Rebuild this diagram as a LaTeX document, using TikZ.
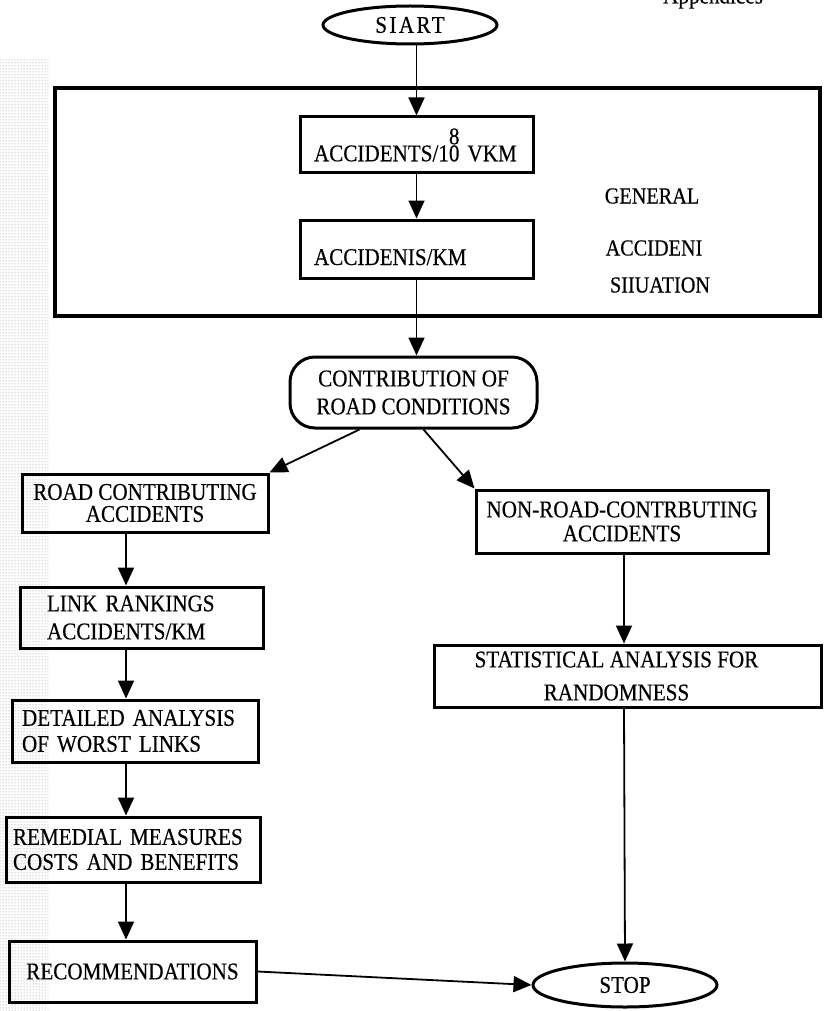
\documentclass[tikz,border=0pt]{standalone}
\usepackage{fontspec}
\setmainfont{Liberation Serif}[FakeStretch=0.88, FakeBold=0.4]
\usetikzlibrary{arrows.meta,shapes.geometric,patterns}
\newcommand\bfnt[1]{\fontsize{24}{#1}\selectfont}
\newcommand\sidefnt{\fontsize{23}{26}\selectfont}
\tikzset{
  box/.style={draw, line width=3pt, inner sep=0pt, font=\bfnt{25}},
  oval/.style={draw, ellipse, line width=3pt, inner sep=0pt, font=\bfnt{25}},
  arr/.style={line width=1.8pt, -{Triangle[length=18pt,width=16pt]}},
  side/.style={inner sep=0pt, font=\sidefnt},
}
\begin{document}
\begin{tikzpicture}[x=1pt,y=-1pt]
\useasboundingbox (0,0) rectangle (824,1011);
% scanned left margin speckle
\fill[pattern=dots, pattern color=gray] (0,60) rectangle (48,1011);
% header fragment
\node[anchor=base west, inner sep=0pt, font=\bfnt{25}] (hdr) at (663,3.5) {Appendices};
% frame
\node[draw, line width=3.5pt, minimum width=765pt, minimum height=228pt, inner sep=0pt] (frame) at (437.5,202) {};
% nodes
\node[oval, minimum width=174pt, minimum height=38pt] (start) at (410,25) {\addfontfeatures{LetterSpace=10}SIART};
\node[box, minimum width=233pt, minimum height=56pt, text width=205pt, align=left] (acc1) at (416.5,145) {ACCIDENTS/10\llap{\raisebox{17pt}{8}}~VKM};
\node[box, minimum width=233pt, minimum height=58pt, text width=205pt, align=left, text height=37pt, text depth=5pt] (acc2) at (416.5,249) {ACCIDENIS/KM};
\node[side] (lblG) at (652,196) {GENERAL};
\node[side] (lblA) at (654,248) {ACCIDENI};
\node[side] (lblS) at (660,285) {SIIUATION};
\node[box, rounded corners=25pt, minimum width=247pt, minimum height=71pt, align=center, font=\bfnt{28}] (contrib) at (413.5,392.5) {CONTRIBUTION OF\\ROAD CONDITIONS};
\node[box, minimum width=246pt, minimum height=58pt, align=center, font=\bfnt{22}] (road) at (145,503) {ROAD CONTRIBUTING\\ACCIDENTS};
\node[box, minimum width=292pt, minimum height=63pt, align=center, font=\bfnt{24}] (nonroad) at (622,521.5) {NON-ROAD-CONTRBUTING\\ACCIDENTS};
\node[box, minimum width=243pt, minimum height=61pt, text width=189pt, align=left, font=\bfnt{28}] (link) at (141.5,617.5) {LINK~RANKINGS\\ACCIDENTS/KM};
\node[box, minimum width=246pt, minimum height=62pt, text width=226pt, align=left, font=\bfnt{26}] (detailed) at (135,731) {DETAILED~ANALYSIS\\OF~WORST~LINKS};
\node[box, minimum width=254pt, minimum height=65pt, text width=240pt, align=left, font=\bfnt{25}] (remedial) at (133,849.5) {REMEDIAL~MEASURES\\COSTS~AND~BENEFITS};
\node[box, minimum width=247pt, minimum height=61pt, align=center] (recomm) at (132.5,971.5) {RECOMMENDATIONS};
\node[box, minimum width=387pt, minimum height=62pt, align=center, font=\bfnt{33}] (stat) at (627.5,676) {\hspace*{-22pt}STATISTICAL ANALYSIS FOR\\\hspace*{-22pt}RANDOMNESS};
\node[oval, minimum width=184pt, minimum height=44pt] (stop) at (625,985) {STOP};
% column guides
\coordinate (colL) at (126,0);
\coordinate (colR) at (624,0);
% connectors
\draw[arr] (start.south -| acc1.north) -- (acc1.north);
\draw[arr] (acc1.south) -- (acc2.north);
\draw[arr] (acc2.south) -- (acc2.south |- contrib.north);
\draw[arr] ([xshift=-54pt]contrib.south) -- (road.north east);
\draw[arr] ([xshift=10pt]contrib.south) -- (nonroad.north west);
\draw[arr] (road.south -| colL) -- (link.north -| colL);
\draw[arr] (link.south -| colL) -- (detailed.north -| colL);
\draw[arr] (detailed.south -| colL) -- (remedial.north -| colL);
\draw[arr] (remedial.south -| colL) -- (recomm.north -| colL);
\draw[arr] (nonroad.south -| colR) -- (stat.north -| colR);
\draw[arr] (stat.south -| colR) -- (stop.north);
\draw[arr] (recomm.east) -- (stop.west);
\end{tikzpicture}
\end{document}
